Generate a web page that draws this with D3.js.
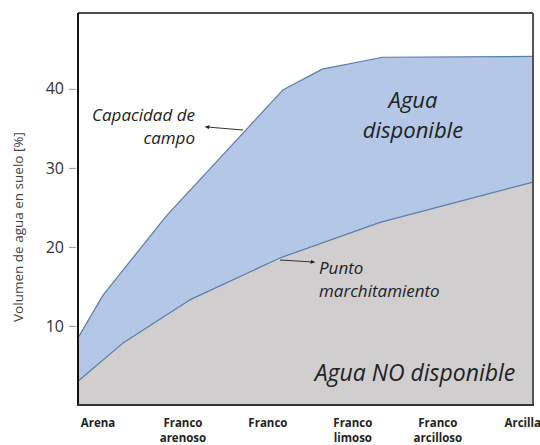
<!DOCTYPE html>
<html>
<head>
<meta charset="utf-8">
<script src="https://cdn.jsdelivr.net/npm/d3@7"></script>
<style>
  body { margin: 0; background: #fff; }
  text { font-family: "Open Sans", "DejaVu Sans", sans-serif; }
</style>
</head>
<body>
<div id="chart"></div>
<script>
// categorias del eje x (una linea por elemento)
var categorias = [["Arena"], ["Franco", "arenoso"], ["Franco"], ["Franco", "limoso"], ["Franco", "arcilloso"], ["Arcilla"]];
var yTicks = [10, 20, 30, 40];

// capacidad de campo (posicion en indice de categoria, valor %)
var capX = [-0.235, 0.06, 0.81, 2.18, 2.64, 3.35, 5.12];
var capVal = [8.5, 13.9, 24, 39.9, 42.5, 44, 44.1];

// punto de marchitamiento
var pmX = [-0.235, 0.29, 1.08, 2.14, 3.32, 5.12];
var pmVal = [3.0, 7.8, 13.3, 18.6, 23.1, 28.2];

const width = 540, height = 445;
const mLeft = 78, mRight = 533, mTop = 13, mBottom = 405;

const svg = d3.select("#chart")
  .append("svg")
  .attr("width", width)
  .attr("height", height);

const x = d3.scaleLinear().domain([-0.235, 5.12]).range([mLeft, mRight]);
const y = d3.scaleLinear().domain([0, 49.6]).range([mBottom, mTop]);

const dataCap = capX.map((d, i) => ({x: d, v: capVal[i]}));
const dataPm = pmX.map((d, i) => ({x: d, v: pmVal[i]}));

const area = d3.area()
  .x(d => x(d.x))
  .y0(y(0))
  .y1(d => y(d.v));
const line = d3.line()
  .x(d => x(d.x))
  .y(d => y(d.v));

// areas
svg.append("path").datum(dataCap).attr("d", area).attr("fill", "#b4c7e7");
svg.append("path").datum(dataCap).attr("d", line).attr("fill", "none").attr("stroke", "#5b7ea6").attr("stroke-width", 1.2).attr("stroke-linejoin", "round");
svg.append("path").datum(dataPm).attr("d", area).attr("fill", "#d0cece");
svg.append("path").datum(dataPm).attr("d", line).attr("fill", "none").attr("stroke", "#5b7ea6").attr("stroke-width", 1.2).attr("stroke-linejoin", "round");

// marco
svg.append("line").attr("x1", mLeft).attr("x2", mRight).attr("y1", mTop).attr("y2", mTop)
  .attr("stroke", "#111").attr("stroke-width", 1.5);
svg.append("line").attr("x1", mRight).attr("x2", mRight).attr("y1", mTop).attr("y2", mBottom)
  .attr("stroke", "#555").attr("stroke-width", 2);
svg.append("line").attr("x1", mLeft).attr("x2", mLeft).attr("y1", mTop).attr("y2", mBottom + 1)
  .attr("stroke", "#111").attr("stroke-width", 2);
svg.append("line").attr("x1", mLeft - 1).attr("x2", mRight + 1).attr("y1", mBottom).attr("y2", mBottom)
  .attr("stroke", "#333").attr("stroke-width", 2);

// eje y
const yAxis = svg.append("g")
  .attr("transform", `translate(${mLeft - 2},0)`)
  .call(d3.axisLeft(y).tickValues(yTicks).tickSize(7).tickPadding(5));
yAxis.select(".domain").remove();
yAxis.selectAll(".tick line").attr("stroke", "#999");
yAxis.selectAll(".tick text")
  .attr("fill", "#333")
  .style("font-size", "16px")
  .style("font-family", "'Open Sans', sans-serif");

svg.append("text")
  .attr("transform", `translate(19,${(mTop + mBottom) / 2 + 18}) rotate(-90)`)
  .attr("text-anchor", "middle")
  .attr("dominant-baseline", "middle")
  .attr("fill", "#444")
  .style("font-size", "13.5px")
  .text("Volumen de agua en suelo [%]");

// etiquetas x
const xLab = svg.append("g")
  .selectAll("text")
  .data(categorias)
  .join("text")
  .attr("x", (d, i) => x(i))
  .attr("y", 427)
  .attr("text-anchor", "middle")
  .attr("fill", "#222")
  .style("font-size", "11.5px")
  .style("font-weight", "bold");
xLab.selectAll("tspan")
  .data(d => d)
  .join("tspan")
  .attr("x", function() { return d3.select(this.parentNode).attr("x"); })
  .attr("dy", (d, i) => i == 0 ? 0 : 14.5)
  .text(d => d);

// flechas
svg.append("defs").append("marker")
  .attr("id", "flecha")
  .attr("viewBox", "0 0 10 10")
  .attr("refX", 5).attr("refY", 5)
  .attr("markerWidth", 5).attr("markerHeight", 5)
  .attr("orient", "auto")
  .append("path").attr("d", "M0,1 L10,5 L0,9 Z").attr("fill", "#222");

svg.append("line").attr("x1", 243).attr("y1", 130).attr("x2", 207).attr("y2", 127)
  .attr("stroke", "#333").attr("stroke-width", 1).attr("marker-end", "url(#flecha)");
svg.append("line").attr("x1", 280).attr("y1", 260).attr("x2", 313).attr("y2", 262)
  .attr("stroke", "#333").attr("stroke-width", 1).attr("marker-end", "url(#flecha)");

// textos
function texto(tx, ty, t, size, anchor) {
  svg.append("text")
    .attr("x", tx).attr("y", ty)
    .attr("text-anchor", anchor)
    .attr("fill", "#222")
    .style("font-size", size + "px")
    .style("font-style", "italic")
    .text(t);
}
texto(195, 121, "Capacidad de", 17, "end");
texto(195, 144, "campo", 17, "end");
texto(413, 108, "Agua", 22, "middle");
texto(413, 138, "disponible", 22, "middle");
texto(319, 274, "Punto", 17, "start");
texto(319, 297, "marchitamiento", 17, "start");
texto(415, 381, "Agua NO disponible", 23, "middle");
</script>
</body>
</html>
